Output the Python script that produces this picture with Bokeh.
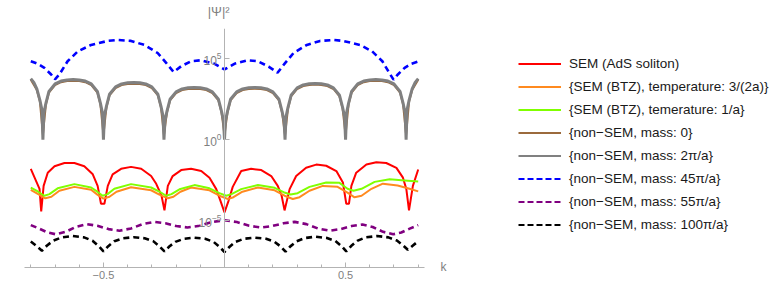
import numpy as np
from bokeh.plotting import figure
from bokeh.layouts import row
from bokeh.models import (FixedTicker, SingleIntervalTicker, Legend, LegendItem, LinearAxis,
                          CustomJSTickFormatter, Range1d)
from bokeh.embed import file_html
from bokeh.resources import INLINE

# ---- data: k positions and log10(|Psi|^2) values ----
red_k = [-0.8, -0.764, -0.757, -0.747, -0.73, -0.702, -0.661, -0.62, -0.579, -0.544, -0.524, -0.51, -0.496, -0.482,
         -0.462, -0.427, -0.386, -0.344, -0.303, -0.282, -0.26, -0.248, -0.234, -0.214, -0.179, -0.138, -0.096,
         -0.062, -0.034, -0.017, 0.0, 0.017, 0.034, 0.069, 0.11, 0.152, 0.193, 0.22, 0.236, 0.248, 0.269, 0.296,
         0.337, 0.379, 0.42, 0.462, 0.489, 0.503, 0.514, 0.524, 0.544, 0.586, 0.627, 0.668, 0.71, 0.737, 0.751,
         0.762, 0.778, 0.8]
red_L = [-1.81, -3.05, -4.45, -2.87, -2.05, -1.65, -1.45, -1.45, -1.65, -2.15, -2.87, -3.98, -3.98, -2.87,
         -2.15, -1.81, -1.69, -1.81, -2.26, -2.74, -3.48, -4.39, -2.87, -2.26, -1.89, -1.81, -1.95,
         -2.36, -3.07, -3.78, -4.51, -3.78, -2.93, -1.95, -1.81, -1.89, -2.26, -2.87, -3.48, -4.39, -3.07, -2.26,
         -1.74, -1.55, -1.62, -1.95, -2.66, -3.98, -3.98, -2.87, -2.05, -1.54, -1.40, -1.45, -1.75, -2.36, -3.07,
         -4.39, -2.87, -1.85]

orange_k = [-0.8, -0.773, -0.74, -0.715, -0.682, -0.62, -0.551, -0.525, -0.5, -0.475, -0.446, -0.386, -0.303,
            -0.269, -0.234, -0.211, -0.182, -0.138, -0.062, -0.021, 0.014, 0.037, 0.074, 0.138, 0.207, 0.248,
            0.282, 0.31, 0.351, 0.406, 0.467, 0.508, 0.537, 0.566, 0.607, 0.654, 0.715, 0.764, 0.8]
orange_L = [-3.11, -3.35, -3.64, -3.54, -3.17, -2.93, -3.11, -3.41, -3.66, -3.54, -3.23, -2.95, -3.14,
            -3.41, -3.64, -3.54, -3.23, -2.97, -3.14, -3.48, -3.68, -3.57, -3.23, -2.97, -3.14, -3.48,
            -3.68, -3.57, -3.17, -2.87, -2.93, -3.29, -3.58, -3.48, -3.05, -2.73, -2.84, -3.05, -3.21]

green_k = [-0.8, -0.773, -0.744, -0.723, -0.689, -0.62, -0.551, -0.525, -0.503, -0.483, -0.455, -0.386, -0.303,
           -0.269, -0.241, -0.219, -0.186, -0.124, -0.062, -0.021, 0.007, 0.029, 0.069, 0.138, 0.207, 0.244,
           0.273, 0.302, 0.351, 0.42, 0.475, 0.508, 0.533, 0.566, 0.62, 0.682, 0.744, 0.8]
green_L = [-2.97, -3.20, -3.48, -3.38, -3.02, -2.76, -2.97, -3.23, -3.48, -3.38, -3.05, -2.76, -2.97,
           -3.23, -3.48, -3.38, -3.08, -2.82, -3.02, -3.32, -3.48, -3.38, -3.07, -2.82, -2.99, -3.26,
           -3.40, -3.32, -2.93, -2.66, -2.68, -3.05, -3.17, -3.05, -2.62, -2.46, -2.53, -2.60]

brown_k = [-0.8, -0.775, -0.7625, -0.75, -0.7375, -0.725, -0.7, -0.675, -0.65, -0.625, -0.6, -0.575, -0.55,
           -0.525, -0.5125, -0.5, -0.4875, -0.475, -0.45, -0.425, -0.4, -0.375, -0.35, -0.325, -0.3, -0.275,
           -0.2625, -0.25, -0.2375, -0.225, -0.2, -0.175, -0.15, -0.125, -0.1, -0.075, -0.05, -0.025, -0.0125,
           0.0, 0.0125, 0.025, 0.05, 0.075, 0.1, 0.125, 0.15, 0.175, 0.2, 0.225, 0.2375, 0.25, 0.2625, 0.275,
           0.3, 0.325, 0.35, 0.375, 0.4, 0.425, 0.45, 0.475, 0.4875, 0.5, 0.5125, 0.525, 0.55, 0.575, 0.6,
           0.625, 0.65, 0.675, 0.7, 0.725, 0.7375, 0.75, 0.7625, 0.775, 0.8]
brown_L = [3.71, 3.08, 2.38, 0.3, 2.19, 2.92, 3.38, 3.56, 3.63, 3.65, 3.63, 3.56, 3.38,
           2.92, 2.19, 0.3, 2.01, 2.74, 3.20, 3.38, 3.45, 3.47, 3.45, 3.38, 3.20, 2.74,
           2.01, 0.3, 1.70, 2.43, 2.89, 3.07, 3.14, 3.16, 3.14, 3.07, 2.89, 2.43, 1.70,
           0.3, 1.70, 2.43, 2.89, 3.07, 3.14, 3.16, 3.14, 3.07, 2.89, 2.43, 1.70, 0.3, 1.95, 2.68,
           3.14, 3.32, 3.39, 3.41, 3.39, 3.32, 3.14, 2.68, 1.95, 0.3, 2.19, 2.92, 3.38, 3.56, 3.63,
           3.65, 3.63, 3.56, 3.38, 2.92, 2.19, 0.3, 2.38, 3.08, 3.71]

gray_k = [-0.8, -0.7875, -0.775, -0.7625, -0.754, -0.75,
          -0.746, -0.7375, -0.725, -0.7, -0.675, -0.65, -0.625, -0.6, -0.575, -0.55, -0.525, -0.5125, -0.504, -0.5,
          -0.496, -0.4875, -0.475, -0.45, -0.425, -0.4, -0.375, -0.35, -0.325, -0.3, -0.275, -0.2625, -0.254, -0.25,
          -0.246, -0.2375, -0.225, -0.2, -0.175, -0.15, -0.125, -0.1, -0.075, -0.05, -0.025, -0.0125, -0.004, 0.0,
          0.004, 0.0125, 0.025, 0.05, 0.075, 0.1, 0.125, 0.15, 0.175, 0.2, 0.225, 0.2375, 0.246, 0.25,
          0.254, 0.2625, 0.275, 0.3, 0.325, 0.35, 0.375, 0.4, 0.425, 0.45, 0.475, 0.4875, 0.496, 0.5,
          0.504, 0.5125, 0.525, 0.55, 0.575, 0.6, 0.625, 0.65, 0.675, 0.7, 0.725, 0.7375, 0.746, 0.75,
          0.754, 0.7625, 0.775, 0.7875, 0.8]
gray_L = [3.78, 3.55, 3.15, 2.45, 1.85, 0.0,
          1.65, 2.26, 2.99, 3.45, 3.63, 3.70, 3.72, 3.70, 3.63, 3.45, 2.99, 2.26, 1.65, 0.0,
          1.47, 2.08, 2.81, 3.27, 3.45, 3.52, 3.54, 3.52, 3.45, 3.27, 2.81, 2.08, 1.47, 0.0,
          1.16, 1.77, 2.50, 2.96, 3.14, 3.21, 3.23, 3.21, 3.14, 2.96, 2.50, 1.77, 1.16, 0.0,
          1.16, 1.77, 2.50, 2.96, 3.14, 3.21, 3.23, 3.21, 3.14, 2.96, 2.50, 1.77, 1.16, 0.0,
          1.41, 2.02, 2.75, 3.21, 3.39, 3.46, 3.48, 3.46, 3.39, 3.21, 2.75, 2.02, 1.41, 0.0,
          1.65, 2.26, 2.99, 3.45, 3.63, 3.70, 3.72, 3.70, 3.63, 3.45, 2.99, 2.26, 1.65, 0.0,
          1.85, 2.45, 3.15, 3.55, 3.78]

blue_k = [-0.8, -0.771, -0.744, -0.716, -0.700, -0.682, -0.648, -0.606, -0.551, -0.482, -0.441, -0.386, -0.331,
          -0.276, -0.241, -0.210, -0.179, -0.138, -0.096, -0.041, 0.0, 0.041, 0.096, 0.138, 0.182, 0.219, 0.25,
          0.285, 0.34, 0.395, 0.45, 0.49, 0.56, 0.61, 0.652, 0.682, 0.698, 0.716, 0.744, 0.771, 0.8]
blue_L = [4.86, 4.70, 4.45, 4.04, 3.74, 4.04, 4.86, 5.47, 5.87, 6.12, 6.18, 6.12, 5.87,
          5.37, 4.76, 4.19, 4.55, 4.86, 4.92, 4.70, 4.35, 4.70, 4.92, 4.86, 4.53, 4.15, 4.74,
          5.37, 5.87, 6.12, 6.18, 6.12, 5.87, 5.47, 4.86, 4.10, 3.72, 4.04, 4.45, 4.70, 4.84]

purple_k = [-0.8, -0.765, -0.73, -0.697, -0.655, -0.612, -0.57, -0.525, -0.479, -0.434, -0.386, -0.338, -0.29,
            -0.244, -0.199, -0.153, -0.102, -0.051, 0.0, 0.051, 0.102, 0.15, 0.197, 0.243, 0.29, 0.338, 0.386,
            0.434, 0.479, 0.525, 0.57, 0.612, 0.655, 0.697, 0.73, 0.765, 0.8]
purple_L = [-5.30, -5.52, -5.76, -5.87, -5.71, -5.40, -5.24, -5.34, -5.55, -5.65, -5.51, -5.24, -5.10,
            -5.19, -5.36, -5.45, -5.34, -5.11, -5.00, -5.11, -5.34, -5.45, -5.36, -5.19, -5.10, -5.24, -5.51,
            -5.65, -5.55, -5.36, -5.26, -5.42, -5.72, -5.87, -5.76, -5.52, -5.30]

black_k = [-0.8, -0.78, -0.754, -0.734, -0.709, -0.674, -0.627, -0.58, -0.545, -0.52, -0.5, -0.48, -0.455,
           -0.42, -0.375, -0.33, -0.293, -0.268, -0.248, -0.228, -0.203, -0.168, -0.124, -0.08, -0.045, -0.02,
           0.0, 0.02, 0.045, 0.08, 0.127, 0.172, 0.207, 0.232, 0.252, 0.272, 0.297, 0.332, 0.377, 0.423, 0.458,
           0.483, 0.503, 0.523, 0.548, 0.583, 0.63, 0.677, 0.712, 0.737, 0.757, 0.777, 0.8]
black_L = [-6.32, -6.55, -6.89, -6.58, -6.28, -6.07, -5.98, -6.06, -6.27, -6.60, -6.93, -6.61, -6.30,
           -6.12, -6.05, -6.12, -6.31, -6.63, -6.93, -6.63, -6.34, -6.15, -6.08, -6.15, -6.34, -6.66,
           -6.97, -6.66, -6.34, -6.15, -6.08, -6.15, -6.34, -6.63, -6.95, -6.62, -6.31, -6.10, -6.02, -6.10, -6.29,
           -6.60, -6.93, -6.60, -6.28, -6.06, -5.98, -6.06, -6.26, -6.55, -6.83, -6.58, -6.30]

labels = ["SEM (AdS soliton)",
          "{SEM (BTZ), temperature: 3/(2a)}",
          "{SEM (BTZ), temerature: 1/a}",
          "{non\u2212SEM, mass: 0}",
          "{non\u2212SEM, mass: 2\u03c0/a}",
          "{non\u2212SEM, mass: 45\u03c0/a}",
          "{non\u2212SEM, mass: 55\u03c0/a}",
          "{non\u2212SEM, mass: 100\u03c0/a}"]

y_ticks = [1e-5, 1.0, 1e5]
Y_LO, Y_HI = 10 ** -7.93, 10 ** 6.89

# ---- main plot ----
FONT = "Liberation Sans"
p = figure(width=454, height=287, x_range=(-0.826, 0.826), y_range=(Y_LO, Y_HI),
           y_axis_type="log", output_backend="svg", toolbar_location=None,
           min_border_left=24, min_border_right=30, min_border_top=24, min_border_bottom=20)
p.grid.visible = False
p.outline_line_color = None

series = [
    (red_k, red_L, "#ff0000", 2, None),
    (orange_k, orange_L, "#ff8a1f", 2, None),
    (green_k, green_L, "#80ff00", 2, None),
    (brown_k, brown_L, "#9b6a3c", 2, None),
    (gray_k, gray_L, "#808080", 3, None),
    (blue_k, blue_L, "#0000ff", 2.6, "6 4"),
    (purple_k, purple_L, "#800080", 2.6, "6 4"),
    (black_k, black_L, "#000000", 2.6, "6 4"),
]
for ks, Ls, col, lw, dash in series:
    assert len(ks) == len(Ls)
    kw = dict(line_color=col, line_width=lw)
    if dash:
        kw["line_dash"] = dash
    p.line(np.array(ks), 10.0 ** np.array(Ls), **kw)

AX = "#b3b3b3"
TL = "#7f7f7f"
xa = p.xaxis[0]
xa.ticker = SingleIntervalTicker(interval=0.5, num_minor_ticks=5)
xa.major_label_overrides = {-0.5: "\u22120.5", 0: "", 0.5: "0.5"}
xa.axis_line_color = AX
xa.major_tick_line_color = AX
xa.minor_tick_line_color = AX
xa.major_tick_in = 5
xa.major_tick_out = 0
xa.minor_tick_in = 3
xa.minor_tick_out = 0
xa.major_label_text_color = TL
xa.major_label_text_font = FONT
xa.major_label_text_font_size = "11px"
xa.major_label_standoff = 3

ya = p.yaxis[0]
ya.fixed_location = 0
ya.ticker = FixedTicker(ticks=y_ticks, minor_ticks=[])
ya.axis_line_color = AX
ya.major_tick_line_color = AX
ya.major_tick_in = 5
ya.major_tick_out = 0
ya.minor_tick_line_color = None
ya.major_label_text_color = TL
ya.major_label_text_font = FONT
ya.major_label_text_font_size = "12px"
ya.major_label_standoff = 3

k_axis = LinearAxis(ticker=FixedTicker(ticks=[10 ** -7.92], minor_ticks=[]),
                    formatter=CustomJSTickFormatter(code="return 'k'"),
                    axis_line_color=None, major_tick_line_color=None, minor_tick_line_color=None,
                    major_label_standoff=10, major_label_text_color=TL, major_label_text_font=FONT,
                    major_label_text_font_size="12px")
p.add_layout(k_axis, "right")
psi_axis = LinearAxis(ticker=FixedTicker(ticks=[-0.024], minor_ticks=[]),
                      formatter=CustomJSTickFormatter(code="return '|\\u03a8|\\u00b2'"),
                      axis_line_color=None, major_tick_line_color=None, minor_tick_line_color=None,
                      major_label_standoff=4, major_label_text_color=TL, major_label_text_font=FONT,
                      major_label_text_font_size="13px")
p.add_layout(psi_axis, "above")

# ---- legend panel ----
q = figure(width=316, height=287, x_range=Range1d(0, 1), y_range=Range1d(0, 1),
           output_backend="svg", toolbar_location=None, x_axis_location=None, y_axis_location=None,
           min_border=0)
q.grid.visible = False
q.outline_line_color = None
items = []
for (ks, Ls, col, lw, dash), lab in zip(series, labels):
    kw = dict(line_color=col, line_width=2)
    if dash:
        kw["line_dash"] = "6 3"
    r = q.line([5, 6], [5, 6], **kw)   # legend sample only (outside the visible range)
    items.append(LegendItem(label=lab, renderers=[r]))

legend = Legend(items=items, location=(64, 32.5), orientation="vertical",
                label_text_font=FONT, label_text_font_size="13.5px", label_text_color="#1a1a1a",
                glyph_width=43, glyph_height=21, label_height=21, spacing=2, label_standoff=8,
                padding=0, border_line_color=None, background_fill_alpha=0, margin=0)
q.add_layout(legend, "center")

layout = row(p, q, spacing=0)
open("out.html", "w").write(file_html(layout, INLINE))
